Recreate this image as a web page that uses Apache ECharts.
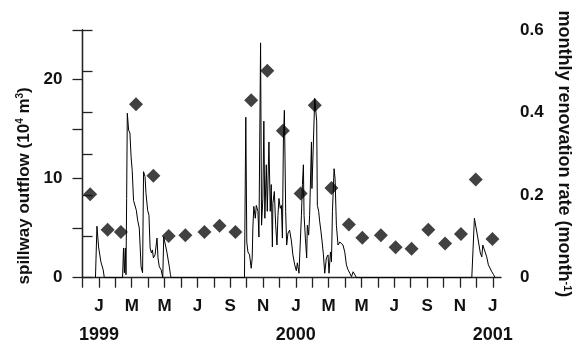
<!DOCTYPE html>
<html>
<head>
<meta charset="utf-8">
<script src="https://cdn.jsdelivr.net/npm/echarts@6/dist/echarts.min.js"></script>
<style>
  html, body { margin: 0; padding: 0; background: #fff; }
  #chart { width: 577px; height: 347px; }
</style>
</head>
<body>
<div id="chart"></div>
<script>
// x is months counted from 1 Dec 1998 (0 = Dec 98, 1 = Jan 99, ... 25 = Jan 01)
const monthTicks = [0,1,2,3,4,5,6,7,8,9,10,11,12,13,14,15,16,17,18,19,20,21,22,23,24,25];
const monthLabelAt = [1, 3, 5, 7, 9, 11, 13, 15, 17, 19, 21, 23, 25];
const monthLabels = ['J', 'M', 'M', 'J', 'S', 'N', 'J', 'M', 'M', 'J', 'S', 'N', 'J'];
const yearLabelAt = [1, 13, 25];
const yearLabels = ['1999', '2000', '2001'];

const outflowTicks = [0, 10, 20];
const rateTicks = [0, 0.2, 0.4, 0.6];

// spillway outflow (10^4 m3), daily trace [month, value]
const outflow = [
  [0.79, 0], [0.88, 5.2], [0.98, 3.1], [1.12, 1.6], [1.18, 1.45], [1.26, 0.8], [1.33, 0],
  [2.44, 0], [2.50, 3.0], [2.55, 0.5], [2.61, 3.0], [2.65, 0.3], [2.69, 8], [2.73, 16.6],
  [2.81, 14.9], [2.89, 14.6], [2.96, 12.2], [3.03, 10.8], [3.11, 7.8], [3.20, 7.6],
  [3.28, 6.8], [3.36, 5.8], [3.46, 5.0], [3.57, 1.1], [3.66, 0.5], [3.72, 10.7],
  [3.81, 10.2], [3.87, 8.5], [3.97, 6.8], [4.05, 6.3], [4.12, 3.0], [4.20, 2.5],
  [4.26, 2.8], [4.32, 2.0], [4.42, 2.3], [4.54, 4.0], [4.60, 2.0], [4.68, 1.1],
  [4.79, 0.8], [4.89, 0],
  [4.95, 4.1], [5.03, 4.2], [5.09, 3.0], [5.15, 2.5], [5.23, 2.3], [5.29, 1.1],
  [5.36, 0.3], [5.40, 0],
  [9.87, 0], [9.95, 16.2], [10.01, 3.6], [10.08, 2.6], [10.18, 2.3], [10.28, 0.95],
  [10.34, 2.0], [10.38, 5.0], [10.44, 7.2], [10.53, 6.0], [10.59, 7.3], [10.65, 7.2],
  [10.69, 6.7], [10.75, 4.1], [10.79, 3.9], [10.85, 23.7], [10.91, 5.3], [10.99, 8.0],
  [11.05, 15.8], [11.11, 6.0], [11.20, 11.4], [11.26, 6.7], [11.36, 13.7], [11.44, 6.7],
  [11.50, 9.4], [11.57, 3.1], [11.60, 7.5], [11.69, 8.7], [11.77, 5.3], [11.85, 3.3],
  [11.91, 6.3], [11.97, 8.0], [12.05, 7.0], [12.12, 7.3], [12.18, 4.0], [12.24, 13.7],
  [12.30, 16.9], [12.34, 12.0], [12.38, 6.7], [12.44, 3.3], [12.52, 4.5], [12.62, 4.8],
  [12.73, 3.7], [12.82, 2.3], [12.93, 1.3], [13.03, 0.7], [13.09, 1.5], [13.19, 0.45],
  [13.28, 0.45], [13.34, 6.3], [13.40, 9.4], [13.46, 11.4], [13.50, 6.3], [13.58, 4.0],
  [13.66, 2.0], [13.70, 5.3], [13.78, 4.3], [13.84, 6.3], [13.95, 13.7], [13.98, 9.0],
  [14.07, 13.7], [14.15, 18.1], [14.21, 18.3], [14.27, 15.8], [14.31, 7.3], [14.39, 6.7],
  [14.45, 5.7], [14.52, 4.8], [14.59, 3.8], [14.68, 2.3], [14.76, 0.45], [14.86, 2.0],
  [14.96, 2.3], [15.02, 0.45], [15.11, 2.6], [15.17, 1.6], [15.23, 6.7], [15.33, 11.0],
  [15.39, 10.0], [15.47, 5.3], [15.57, 3.3], [15.68, 3.6], [15.78, 3.8], [15.87, 3.3],
  [15.98, 2.6], [16.08, 1.3], [16.18, 0.8], [16.29, 0.45], [16.39, 0.1], [16.49, 0.6],
  [16.59, 0.8], [16.70, 0],
  [23.72, 0], [23.88, 6.0], [23.94, 5.8], [24.08, 4.1], [24.16, 3.3], [24.24, 2.5],
  [24.33, 2.1], [24.39, 3.3], [24.47, 3.5], [24.53, 2.6], [24.63, 2.1], [24.73, 1.3],
  [24.83, 1.1], [24.94, 0.6], [25.05, 0.3], [25.14, 0]
];

// monthly renovation rate (month^-1)
const rateMonth = [0.47, 1.53, 2.34, 3.26, 4.32, 5.25, 6.27, 7.43, 8.35, 9.32, 10.28, 11.26, 12.21,
  13.29, 14.15, 15.17, 16.23, 17.05, 18.18, 19.08, 20.05, 21.07, 22.09, 23.06, 23.96, 24.98];
const rateValue = [0.202, 0.116, 0.111, 0.420, 0.247, 0.101, 0.103, 0.111, 0.126, 0.111, 0.430, 0.501, 0.356,
  0.204, 0.418, 0.217, 0.129, 0.097, 0.103, 0.074, 0.070, 0.116, 0.083, 0.106, 0.238, 0.094];

const font = "'Liberation Sans', Arial, Helvetica, sans-serif";
const ink = '#111';
const axisCol = '#222';

const chart = echarts.init(document.getElementById('chart'));

const richLeft = {
  a: { fontSize: 17, fontWeight: 'bold', fontFamily: font, color: ink },
  sup: { fontSize: 10, fontWeight: 'bold', fontFamily: font, color: ink, verticalAlign: 'top' }
};
const richRight = {
  a: { fontSize: 18, fontWeight: 'bold', fontFamily: font, color: ink },
  sup: { fontSize: 11, fontWeight: 'bold', fontFamily: font, color: ink, verticalAlign: 'top' }
};

const option = {
  animation: false,
  backgroundColor: '#fff',
  textStyle: { fontFamily: font },
  grid: { left: 82.5, right: 76, top: 30, bottom: 69.3, outerBoundsMode: 'none' },
  xAxis: [
    {
      type: 'value',
      min: 0,
      max: 25.5,
      interval: 1,
      position: 'bottom',
      splitLine: { show: false },
      axisLine: { show: true, lineStyle: { color: axisCol, width: 1.3 } },
      axisTick: { show: true, length: 10, inside: false, customValues: monthTicks,
        lineStyle: { color: axisCol, width: 1.3 } },
      axisLabel: {
        customValues: monthLabelAt,
        margin: 20,
        fontSize: 17,
        fontWeight: 'bold',
        color: ink,
        fontFamily: font,
        formatter: v => monthLabels[monthLabelAt.indexOf(v)] || ''
      }
    },
    {
      type: 'value',
      min: 0,
      max: 25.5,
      position: 'bottom',
      offset: 0,
      splitLine: { show: false },
      axisLine: { show: false },
      axisTick: { show: false },
      axisLabel: {
        customValues: yearLabelAt,
        margin: 48,
        fontSize: 18,
        fontWeight: 'bold',
        color: ink,
        fontFamily: font,
        formatter: v => yearLabels[yearLabelAt.indexOf(v)] || ''
      }
    }
  ],
  yAxis: [
    {
      type: 'value',
      min: 0,
      max: 25,
      interval: 5,
      position: 'left',
      splitLine: { show: false },
      axisLine: { show: true, lineStyle: { color: axisCol, width: 1.3 } },
      axisTick: { show: true, length: 10, lineStyle: { color: axisCol, width: 1.3 } },
      axisLabel: {
        customValues: outflowTicks,
        margin: 20,
        fontSize: 17,
        fontWeight: 'bold',
        color: ink,
        fontFamily: font
      },
      name: '{a|spillway outflow (10}{sup|4}{a| m}{sup|3}{a|)}',
      nameLocation: 'middle',
      nameRotate: 90,
      nameGap: 50,
      nameTextStyle: { rich: richLeft, padding: [0, 64, 0, 0] }
    },
    {
      type: 'value',
      min: 0,
      max: 0.6,
      interval: 0.1,
      position: 'right',
      splitLine: { show: false },
      axisLine: { show: true, lineStyle: { color: axisCol, width: 1.3 } },
      axisTick: { show: true, length: 10, lineStyle: { color: axisCol, width: 1.3 } },
      axisLabel: {
        customValues: rateTicks,
        margin: 19,
        fontSize: 17,
        fontWeight: 'bold',
        color: ink,
        fontFamily: font,
        formatter: v => String(v)
      },
      name: '{a|monthly renovation rate (month}{sup|-1}{a|)}',
      nameLocation: 'middle',
      nameRotate: -90,
      nameGap: 40,
      nameTextStyle: { rich: richRight }
    }
  ],
  series: [
    {
      name: 'outflow',
      type: 'line',
      xAxisIndex: 0,
      yAxisIndex: 0,
      showSymbol: false,
      symbol: 'none',
      lineStyle: { color: '#000', width: 1 },
      data: outflow
    },
    {
      name: 'rate',
      type: 'scatter',
      xAxisIndex: 0,
      yAxisIndex: 1,
      symbol: 'diamond',
      symbolSize: 14,
      itemStyle: { color: '#111' },
      data: rateMonth.map((m, i) => [m, rateValue[i]])
    }
  ]
};

chart.setOption(option);
</script>
</body>
</html>
